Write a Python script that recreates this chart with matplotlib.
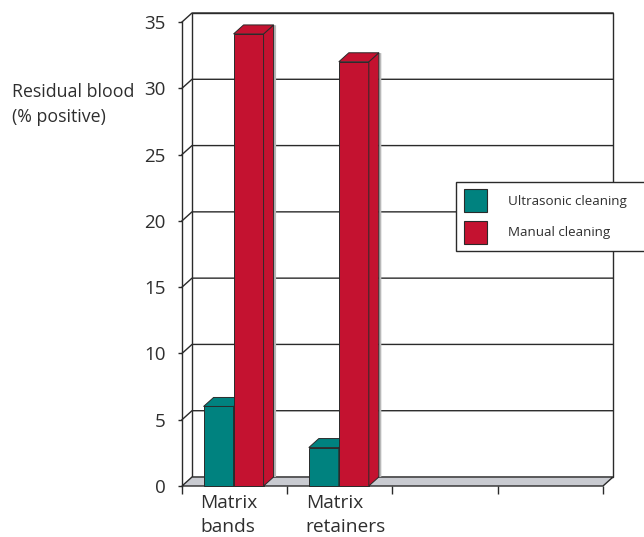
import matplotlib
matplotlib.use("Agg")
import matplotlib.pyplot as plt
from matplotlib.patches import Polygon, Rectangle
import numpy as np

# data
categories = ["Matrix\nbands", "Matrix\nretainers", "", ""]
ultrasonic = [6.0, 2.9]
manual = [34.1, 32.0]
series_names = ["Ultrasonic cleaning", "Manual cleaning"]
yticks = [0, 5, 10, 15, 20, 25, 30, 35]

TEAL = "#00827f"
RED = "#c41230"
EDGE = "#2a2a2a"
TXT = "#2e2e2e"
FLOOR = "#c9cbd1"

W, H = 644, 537
plt.rcParams["font.family"] = ["Open Sans", "DejaVu Sans"]

fig = plt.figure(figsize=(W / 100, H / 100), dpi=100)
ax = fig.add_axes([182 / W, 1 - 486 / H, (603 - 182) / W, (486 - 22) / H])
ax.set_xlim(0, 4)
ax.set_ylim(0, 35)

# depth offset of the pseudo-3d box, in data units
DX = 10 / 105.25
DY = 9 / 13.26
NC = len(categories)

for s in ("top", "right", "bottom"):
    ax.spines[s].set_visible(False)
ax.spines["left"].set_color(EDGE)
ax.spines["left"].set_linewidth(1.0)
ax.spines["left"].set_zorder(4)

# back wall + grid
ax.add_patch(Polygon([(DX, DY), (NC + DX, DY), (NC + DX, 35 + DY), (DX, 35 + DY)],
                     closed=True, facecolor="white", edgecolor=EDGE, lw=1.0,
                     clip_on=False, zorder=1))
for v in yticks[1:]:
    ax.plot([0, DX, NC + DX], [v, v + DY, v + DY], color=EDGE, lw=1.0,
            clip_on=False, zorder=2)

# floor
ax.add_patch(Polygon([(0, 0), (NC, 0), (NC + DX, DY), (DX, DY)], closed=True,
                     facecolor=FLOOR, edgecolor=EDGE, lw=1.0, clip_on=False,
                     zorder=3))

# bars: front face via ax.bar, then side and top faces
BW = 0.285
x = np.arange(len(ultrasonic))
for vals, off, col in ((ultrasonic, 0.205, TEAL), (manual, 0.205 + BW, RED)):
    bars = ax.bar(x + off, vals, width=BW, align="edge", color=col,
                  edgecolor=EDGE, lw=0.7, zorder=5, clip_on=False)
    for b in bars:
        x0, x1, h = b.get_x(), b.get_x() + b.get_width(), b.get_height()
        # faint shadow to the right of the side face
        ax.add_patch(Polygon([(x1 + DX, DY), (x1 + DX * 1.25, DY),
                              (x1 + DX * 1.25, h + DY * 0.95), (x1 + DX, h + DY)],
                             closed=True, facecolor="#b8b8b8", lw=0,
                             clip_on=False, zorder=4.5))
        ax.add_patch(Polygon([(x1, 0), (x1 + DX, DY), (x1 + DX, h + DY), (x1, h)],
                             closed=True, facecolor=col, edgecolor=EDGE, lw=0.7,
                             clip_on=False, zorder=5))
        ax.add_patch(Polygon([(x0, h), (x1, h), (x1 + DX, h + DY), (x0 + DX, h + DY)],
                             closed=True, facecolor=col, edgecolor=EDGE, lw=0.7,
                             clip_on=False, zorder=5))

# axes ticks
ax.set_yticks(yticks)
ax.set_yticklabels([str(v) for v in yticks], fontsize=13.5, color=TXT)
ax.tick_params(axis="y", length=3, width=1.0, color=EDGE, pad=9)
ax.set_xticks(np.arange(NC + 1))
ax.set_xticklabels([])
ax.tick_params(axis="x", length=6, width=1.0, color=EDGE, direction="out")

for i, lab in enumerate(categories):
    if lab:
        ax.text(i + 0.175, -0.6, lab, ha="left", va="top", fontsize=13.8,
                color=TXT, linespacing=1.45)

# y axis title
fig.text(12 / W, 1 - 83 / H, "Residual blood\n(% positive)", ha="left",
         va="top", fontsize=12.8, color=TXT, linespacing=1.5)

# legend box, drawn by hand to match the placement
fig.add_artist(Rectangle((456 / W, 1 - 251 / H), (W - 456 + 5) / W, 69 / H,
                         transform=fig.transFigure, facecolor="white",
                         edgecolor=EDGE, lw=1.0, zorder=10))
for j, (name, col) in enumerate(zip(series_names, (TEAL, RED))):
    top = 189 + j * 32
    fig.add_artist(Rectangle((464 / W, 1 - (top + 23) / H), 23 / W, 23 / H,
                             transform=fig.transFigure, facecolor=col,
                             edgecolor=EDGE, lw=0.8, zorder=11))
    fig.text(508 / W, 1 - (top + 12) / H, name, ha="left", va="center",
             fontsize=9.6, color=TXT, zorder=11)

fig.savefig("out.png", dpi=100)
